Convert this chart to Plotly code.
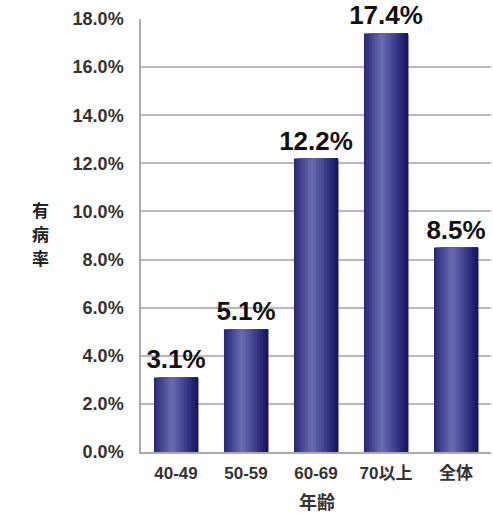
import plotly.graph_objects as go

categories = ["40-49", "50-59", "60-69", "70以上", "全体"]
values = [3.1, 5.1, 12.2, 17.4, 8.5]
tick_vals = [0, 2, 4, 6, 8, 10, 12, 14, 16, 18]
tick_text = ["0.0%", "2.0%", "4.0%", "6.0%", "8.0%", "10.0%", "12.0%", "14.0%", "16.0%", "18.0%"]
y_title_chars = ["有", "病", "率"]
x_title = "年齢"

BAR_W = 0.63
N = 16
stops = [(0.0, (38, 38, 118)), (0.4, (108, 108, 178)), (0.75, (55, 55, 135)), (1.0, (18, 18, 88))]


def grad(t):
    for (t0, c0), (t1, c1) in zip(stops[:-1], stops[1:]):
        if t0 <= t <= t1:
            f = (t - t0) / (t1 - t0)
            return "rgb(%d,%d,%d)" % tuple(round(a + (b - a) * f) for a, b in zip(c0, c1))
    return "rgb(%d,%d,%d)" % stops[-1][1]


fig = go.Figure()
sw = BAR_W / N
for i in range(N):
    fig.add_trace(go.Bar(
        x=categories, y=values,
        width=[BAR_W - i * sw] * len(values),
        offset=[-BAR_W / 2 + i * sw] * len(values),
        marker=dict(color=grad((i + 0.5) / N), line=dict(width=0)),
        showlegend=False, hoverinfo="skip",
    ))

fig.add_trace(go.Bar(
    x=categories, y=values, width=[BAR_W] * len(values),
    offset=[-BAR_W / 2] * len(values),
    marker=dict(color="rgba(0,0,0,0)", line=dict(width=0)),
    text=["<b>%.1f%%</b>" % v for v in values], textposition="outside",
    constraintext="none", cliponaxis=False,
    textfont=dict(family="Liberation Sans, Arial, sans-serif", size=26, color="#111"),
    showlegend=False, hoverinfo="skip",
))

pw = 493 - 141 - 2
ph = 515 - 19 - 63


def px(x):
    return (x - 141) / pw


def py(y):
    return (515 - 63 - y) / ph


annotations = []
for ch, yy in zip(y_title_chars, [209, 233, 257]):
    annotations.append(dict(text="<b>%s</b>" % ch, x=px(40), y=py(yy), xref="paper", yref="paper",
                            showarrow=False, font=dict(size=17, family="Noto Sans CJK JP", color="#222"),
                            xanchor="center", yanchor="middle", borderpad=0))
annotations.append(dict(text="<b>%s</b>" % x_title, x=px(317), y=py(501), xref="paper", yref="paper",
                        showarrow=False, font=dict(size=18, family="Noto Sans CJK JP", color="#333"),
                        xanchor="center", yanchor="middle"))

fig.update_layout(
    width=493, height=515,
    margin=dict(l=141, r=2, t=19, b=63),
    barmode="overlay",
    plot_bgcolor="white", paper_bgcolor="white",
    font=dict(family="Liberation Sans, Noto Sans CJK JP, sans-serif", color="#222"),
    xaxis=dict(
        range=[-0.5, 4.5], showgrid=False, showline=True, linecolor="#aaaaaa", linewidth=1.5,
        tickvals=categories, ticktext=["<b>%s</b>" % c for c in categories],
        tickfont=dict(size=17, family="Liberation Sans, Noto Sans CJK JP, sans-serif", color="#333"),
        ticks="", ticklabelstandoff=5,
    ),
    yaxis=dict(
        range=[0, 18], tickvals=tick_vals, ticktext=["<b>%s</b>" % t for t in tick_text],
        showgrid=True, gridcolor="#b8b8b8", gridwidth=1.5,
        showline=True, linecolor="#aaaaaa", linewidth=1.5, zeroline=False,
        tickfont=dict(size=18, family="Liberation Sans, sans-serif", color="#333"),
        ticks="", ticklabelstandoff=12,
    ),
    annotations=annotations,
)

fig.write_html("out.html")
